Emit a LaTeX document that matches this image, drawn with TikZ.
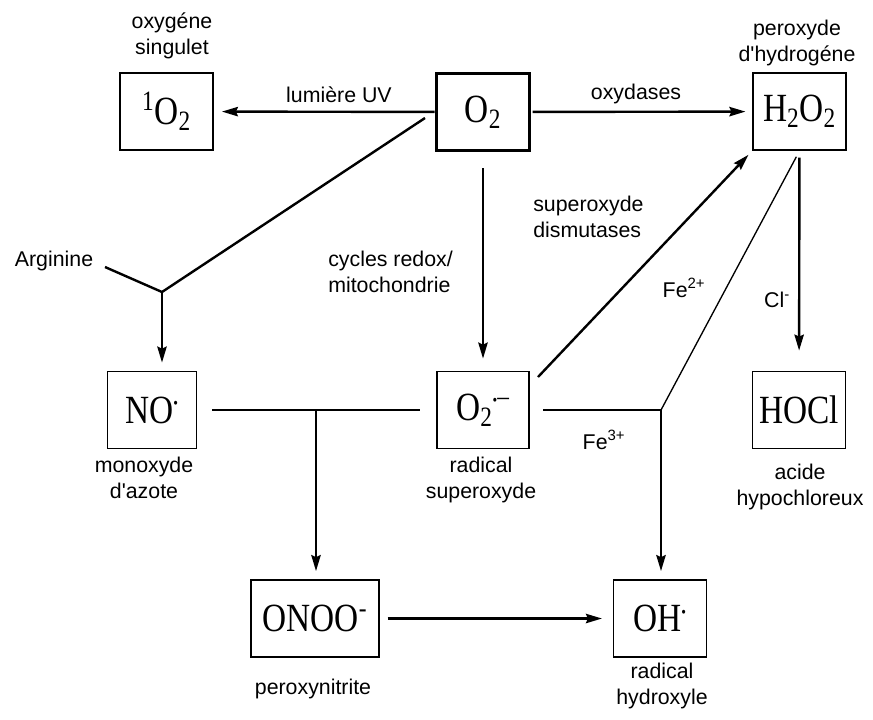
\documentclass[tikz,border=0pt]{standalone}
\usepackage{fontspec}
\setmainfont{Liberation Serif}
\setsansfont{Liberation Sans}
\usetikzlibrary{arrows.meta,positioning}
\newcommand\chem[1]{\scalebox{1}[1.2]{#1}}
\newcommand\rdot{{\fontsize{10}{10}\selectfont•}}

\begin{document}
\begin{tikzpicture}[x=0.75pt,y=-0.75pt,
        species/.style={draw,line width=1.1pt,inner sep=0pt,minimum width=70pt,minimum height=58pt,
            font=\rmfamily\fontsize{25}{28}\selectfont},
        lbl/.style={font=\sffamily\fontsize{16}{19.5}\selectfont,align=center,inner sep=0pt},
        conn/.style={line width=1.8pt},
        react/.style={conn,-{Stealth[length=12pt,width=7pt,inset=1.5pt]}}]
    \useasboundingbox (0,0) rectangle (873,719);
    % species
    \node[species] (singlet) at (166.5,111.5) {\chem{\textsuperscript{1}O\textsubscript{2}}};
    \node[species,line width=2.4pt] (o2) at (483,112) {\chem{O\textsubscript{2}}};
    \node[species] (h2o2) at (799.5,111.5) {\chem{H\textsubscript{2}O\textsubscript{2}}};
    \node[species,minimum width=67pt] (no) at (152,410) {\chem{NO\textsuperscript{\rdot}}};
    \node[species,minimum width=69pt] (superox) at (483,410) {\chem{O\textsubscript{2}\textsuperscript{\rdot–}}};
    \node[species] (hocl) at (799,410) {\chem{HOCl}};
    \node[species,minimum width=96pt] (onoo) at (315,618.5) {\chem{ONOO\textsuperscript{-}}};
    \node[species] (oh) at (660,618.5) {\chem{OH\textsuperscript{\rdot}}};
    % names
    \node[lbl] (singlet_lbl) at (172,36) {oxygéne\\singulet};
    \node[lbl] (h2o2_lbl) at (797,43) {peroxyde\\d\textquotesingle hydrogéne};
    \node[lbl] (no_lbl) at (144,478) {monoxyde\\d\textquotesingle azote};
    \node[lbl] (superox_lbl) at (481,480) {radical\\superoxyde};
    \node[lbl] (hocl_lbl) at (800,487) {acide\\hypochloreux};
    \node[lbl] (onoo_lbl) at (313,689) {peroxynitrite};
    \node[lbl] (oh_lbl) at (662,686) {radical\\hydroxyle};
    % reaction labels
    \node[lbl] (uv_lbl) at (339,95) {lumière UV};
    \node[lbl] (oxy_lbl) at (636,94) {oxydases};
    \node[lbl] (arg_lbl) at (54,261) {Arginine};
    \node[lbl,align=left,anchor=west] (redox_lbl) at (328,272) {cycles redox/\\mitochondrie};
    \node[lbl,align=left,anchor=west] (sod_lbl) at (533,217) {superoxyde\\dismutases};
    \node[lbl] (fe2_lbl) at (684,288) {Fe\textsuperscript{2+}};
    \node[lbl] (cl_lbl) at (777,300) {Cl\textsuperscript{-}};
    \node[lbl] (fe3_lbl) at (604,440) {Fe\textsuperscript{3+}};
    % junctions
    \coordinate (o2out) at (425,118);
    \coordinate (argin) at (105,267);
    \coordinate (argjoin) at (162,292);
    \coordinate (sodin) at (538,377);
    \coordinate (fejoin) at (661,410);
    \coordinate (nojoin) at (316,410);
    % connectors
    \draw[react,shorten >=6pt] (o2) -- (singlet);
    \draw[react,shorten <=1pt,shorten >=5pt] (o2) -- (h2o2);
    \draw[conn] (o2out) -- (argjoin) -- (argin);
    \draw[react,shorten >=6pt] (argjoin) -- (argjoin |- no.north);
    \draw[react,shorten <=12pt,shorten >=9pt] (o2) -- (superox);
    \draw[react,shorten >=4pt] (sodin) -- (h2o2.south west);
    \draw[react,shorten <=5pt,shorten >=15pt] (h2o2) -- (hocl);
    \draw[line width=1pt,shorten <=5pt] (h2o2.south) -- (fejoin);
    \draw[conn,shorten <=10pt] (superox) -- (fejoin);
    \draw[react,shorten >=6pt] (fejoin) -- (fejoin |- oh.north);
    \draw[conn,shorten <=11pt,shorten >=12pt] (no) -- (superox);
    \draw[react,shorten >=6pt] (nojoin) -- (nojoin |- onoo.north);
    \draw[react,shorten <=6pt,shorten >=8pt] (onoo) -- (oh);
\end{tikzpicture}
\end{document}
